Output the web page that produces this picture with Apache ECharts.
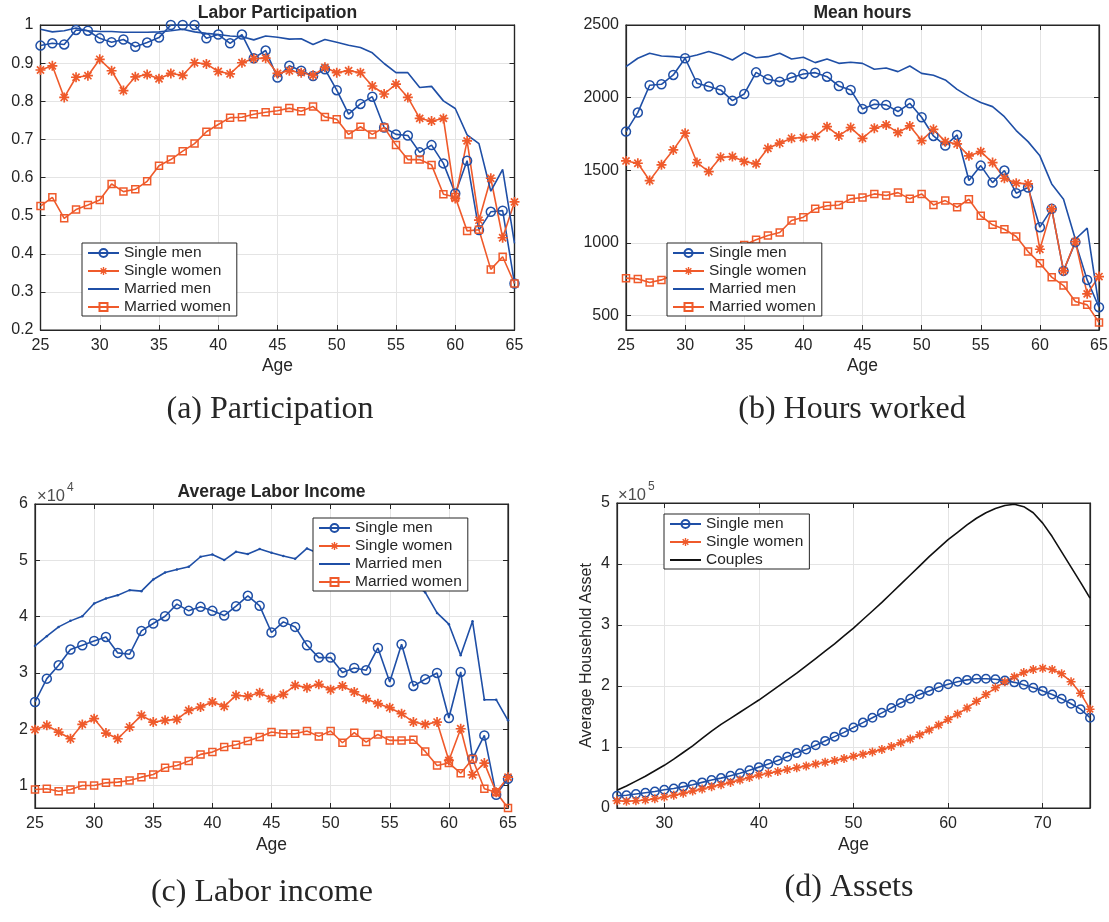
<!DOCTYPE html>
<html>
<head>
<meta charset="utf-8">
<script src="https://cdn.jsdelivr.net/npm/echarts@6.0.0/dist/echarts.min.js"></script>
<style>
  html, body { margin: 0; padding: 0; background: #fff; }
  #chart { width: 1109px; height: 922px; }
</style>
</head>
<body>
<div id="chart"></div>
<script>
// ages for panels a-c and for the assets panel
const AGES = [25, 26, 27, 28, 29, 30, 31, 32, 33, 34, 35, 36, 37, 38, 39, 40, 41, 42, 43, 44, 45,
  46, 47, 48, 49, 50, 51, 52, 53, 54, 55, 56, 57, 58, 59, 60, 61, 62, 63, 64, 65]
const AGES_ASSET = [25, 26, 27, 28, 29, 30, 31, 32, 33, 34, 35, 36, 37, 38, 39, 40, 41, 42, 43, 44, 45,
  46, 47, 48, 49, 50, 51, 52, 53, 54, 55, 56, 57, 58, 59, 60, 61, 62, 63, 64, 65,
  66, 67, 68, 69, 70, 71, 72, 73, 74, 75]

// (a) labor participation
const partSingleMen = [0.946, 0.952, 0.949, 0.987, 0.985, 0.965, 0.955, 0.962, 0.943, 0.954, 0.967,
  1.0, 1.0, 1.0, 0.965, 0.975, 0.952, 0.975, 0.913, 0.933, 0.862,
  0.893, 0.880, 0.866, 0.884, 0.829, 0.766, 0.793, 0.812, 0.731, 0.713,
  0.710, 0.666, 0.685, 0.637, 0.558, 0.644, 0.462, 0.510, 0.513, 0.322]
const partSingleWomen = [0.882, 0.893, 0.810, 0.863, 0.867, 0.910, 0.880, 0.828, 0.864, 0.870, 0.859,
  0.873, 0.868, 0.901, 0.898, 0.878, 0.872, 0.901, 0.912, 0.913, 0.873,
  0.880, 0.875, 0.868, 0.889, 0.875, 0.880, 0.875, 0.840, 0.819, 0.845,
  0.810, 0.755, 0.748, 0.755, 0.545, 0.696, 0.488, 0.598, 0.442, 0.536]
const partMarriedMen = [0.989, 0.982, 0.985, 0.992, 0.985, 0.983, 0.983, 0.981, 0.981, 0.981, 0.982,
  0.985, 0.989, 0.982, 0.978, 0.975, 0.971, 0.969, 0.961, 0.971, 0.968,
  0.963, 0.964, 0.949, 0.962, 0.955, 0.947, 0.941, 0.927, 0.899, 0.875,
  0.875, 0.836, 0.839, 0.801, 0.781, 0.712, 0.689, 0.564, 0.621, 0.427]
const partMarriedWomen = [0.525, 0.548, 0.493, 0.516, 0.528, 0.541, 0.583, 0.563, 0.569, 0.590, 0.631,
  0.647, 0.669, 0.689, 0.720, 0.739, 0.757, 0.758, 0.766, 0.771, 0.775,
  0.782, 0.774, 0.786, 0.759, 0.753, 0.713, 0.733, 0.713, 0.731, 0.685,
  0.647, 0.647, 0.633, 0.556, 0.549, 0.460, 0.463, 0.359, 0.392, 0.322]

// (b) mean hours
const hoursSingleMen = [1766, 1897, 2085, 2092, 2156, 2271, 2099, 2076, 2053, 1979, 2025,
  2174, 2126, 2110, 2138, 2163, 2172, 2144, 2080, 2053, 1922,
  1954, 1950, 1904, 1961, 1865, 1736, 1670, 1743, 1429, 1532,
  1415, 1498, 1342, 1381, 1108, 1234, 807, 1005, 745, 557]
const hoursSingleWomen = [1564, 1548, 1429, 1537, 1640, 1755, 1553, 1491, 1589, 1594, 1560,
  1544, 1651, 1686, 1720, 1725, 1732, 1800, 1736, 1794, 1720,
  1789, 1812, 1759, 1805, 1704, 1782, 1697, 1681, 1599, 1628,
  1553, 1445, 1411, 1406, 956, 1234, 807, 1009, 649, 768]
const hoursMarriedMen = [2213, 2271, 2305, 2287, 2282, 2275, 2294, 2317, 2294, 2259, 2310,
  2275, 2282, 2305, 2266, 2278, 2241, 2266, 2236, 2243, 2236,
  2195, 2204, 2179, 2218, 2167, 2154, 2122, 2057, 2007, 1966,
  1938, 1869, 1773, 1697, 1599, 1406, 1300, 1025, 1101, 562]
const hoursMarriedWomen = [757, 752, 727, 745, 780, 805, 850, 880, 920, 950, 985,
  1021, 1051, 1071, 1154, 1177, 1234, 1255, 1261, 1303, 1312,
  1337, 1326, 1346, 1303, 1337, 1261, 1291, 1245, 1300, 1186,
  1124, 1094, 1044, 940, 860, 764, 706, 596, 573, 452]

// (c) average labor income, x 10^4
const incSingleMen = [2.483, 2.898, 3.135, 3.414, 3.491, 3.568, 3.639, 3.355, 3.331, 3.746, 3.877,
  4.007, 4.221, 4.102, 4.173, 4.102, 4.019, 4.185, 4.369, 4.191, 3.717,
  3.906, 3.817, 3.491, 3.272, 3.272, 3.005, 3.088, 3.046, 3.444, 2.839,
  3.509, 2.768, 2.886, 2.999, 2.198, 3.017, 1.474, 1.890, 0.834, 1.119]
const incSingleWomen = [1.991, 2.068, 1.949, 1.830, 2.085, 2.186, 1.931, 1.830, 2.038, 2.246, 2.127,
  2.157, 2.174, 2.335, 2.394, 2.483, 2.406, 2.601, 2.584, 2.649, 2.542,
  2.619, 2.779, 2.738, 2.797, 2.702, 2.768, 2.661, 2.542, 2.453, 2.382,
  2.275, 2.127, 2.085, 2.127, 1.445, 2.008, 1.190, 1.398, 0.881, 1.148]
const incMarriedMen = [3.479, 3.651, 3.817, 3.924, 4.007, 4.233, 4.321, 4.381, 4.470, 4.452, 4.660,
  4.784, 4.837, 4.885, 5.063, 5.104, 5.004, 5.152, 5.110, 5.199, 5.134,
  5.075, 5.027, 5.211, 5.12, 5.08, 5.02, 4.98, 4.93, 4.90, 4.86,
  4.78, 4.60, 4.43, 4.066, 3.865, 3.313, 3.918, 2.524, 2.524, 2.157]
const incMarriedWomen = [0.929, 0.941, 0.899, 0.929, 1.0, 1.0, 1.047, 1.059, 1.089, 1.148, 1.196,
  1.315, 1.356, 1.433, 1.552, 1.593, 1.682, 1.724, 1.789, 1.860, 1.949,
  1.919, 1.919, 1.967, 1.872, 1.967, 1.759, 1.937, 1.771, 1.907, 1.801,
  1.801, 1.813, 1.605, 1.356, 1.398, 1.219, 1.469, 0.941, 0.881, 0.6]

// (d) average household asset, x 10^5
const assetSingleMen = [0.20, 0.21, 0.23, 0.25, 0.27, 0.30, 0.32, 0.35, 0.38, 0.42,
  0.46, 0.49, 0.53, 0.57, 0.62, 0.67, 0.72, 0.78, 0.84, 0.90,
  0.96, 1.03, 1.10, 1.17, 1.24, 1.32, 1.40, 1.48, 1.56, 1.64,
  1.72, 1.79, 1.86, 1.92, 1.98, 2.03, 2.07, 2.10, 2.12, 2.12,
  2.11, 2.09, 2.06, 2.02, 1.97, 1.92, 1.86, 1.79, 1.71, 1.62, 1.48]
const assetSingleWomen = [0.12, 0.11, 0.12, 0.13, 0.15, 0.18, 0.21, 0.24, 0.28, 0.31,
  0.35, 0.38, 0.42, 0.46, 0.50, 0.54, 0.57, 0.60, 0.63, 0.66,
  0.69, 0.72, 0.75, 0.78, 0.81, 0.85, 0.88, 0.92, 0.96, 1.01,
  1.07, 1.13, 1.20, 1.28, 1.36, 1.45, 1.54, 1.64, 1.75, 1.86,
  1.97, 2.07, 2.15, 2.22, 2.27, 2.29, 2.27, 2.20, 2.07, 1.88, 1.62]
const assetCouples = [0.29, 0.36, 0.44, 0.52, 0.61, 0.70, 0.80, 0.91, 1.02, 1.14,
  1.26, 1.37, 1.47, 1.57, 1.67, 1.77, 1.88, 1.99, 2.10, 2.21,
  2.33, 2.45, 2.57, 2.69, 2.82, 2.95, 3.09, 3.23, 3.37, 3.52,
  3.67, 3.82, 3.97, 4.12, 4.26, 4.40, 4.52, 4.64, 4.75, 4.84,
  4.91, 4.96, 4.98, 4.94, 4.84, 4.67, 4.45, 4.20, 3.95, 3.70, 3.44]

const LEGEND_4 = ['Single men', 'Single women', 'Married men', 'Married women']
const LEGEND_3 = ['Single men', 'Single women', 'Couples']
const PLAIN_LINES = ['Married men', 'Couples']

const BLUE = '#1F4FA6'
const ORANGE = '#EF5A2B'
const INK = '#262626'
const GRID_LINE = '#E4E4E4'
const SANS = 'Liberation Sans, Arial, sans-serif'
const SERIF = 'Liberation Serif, Times New Roman, serif'
// matlab style asterisk marker
const STAR = 'path://M-1,-0.17L1,-0.17L1,0.17L-1,0.17Z' +
  'M-0.17,-1L0.17,-1L0.17,1L-0.17,1Z' +
  'M-0.59,-0.83L0.83,0.59L0.59,0.83L-0.83,-0.59Z' +
  'M0.59,-0.83L0.83,-0.59L-0.59,0.83L-0.83,0.59Z'

const GRIDS = [
  { left: 40.5, top: 25, width: 474, height: 305 },
  { left: 626, top: 25, width: 473, height: 305 },
  { left: 35, top: 504, width: 473, height: 304 },
  { left: 617, top: 503, width: 473, height: 305 },
]

const tickStyle = { inside: true, length: 5, lineStyle: { color: INK, width: 1 } }
const lineAxis = { show: true, onZero: false, lineStyle: { color: INK, width: 1.2 } }

function xAxis(gridIndex, min, max, interval, nameGap, hideEnds) {
  return {
    type: 'value', gridIndex, min, max, interval,
    axisLine: lineAxis, axisTick: tickStyle,
    axisLabel: {
      color: INK, fontSize: 16, fontFamily: SANS, margin: 8,
      showMinLabel: !hideEnds, showMaxLabel: !hideEnds,
      formatter: (v) => String(v),
    },
    splitLine: { show: true, lineStyle: { color: GRID_LINE, width: 1 } },
    name: 'Age', nameLocation: 'middle', nameGap,
    nameTextStyle: { color: INK, fontSize: 17.5, fontFamily: SANS },
  }
}

function yAxis(gridIndex, min, max, interval, hideMin, extra) {
  return {
    type: 'value', gridIndex, min, max, interval,
    axisLine: lineAxis, axisTick: tickStyle,
    axisLabel: {
      color: INK, fontSize: 16, fontFamily: SANS, margin: 7, showMinLabel: !hideMin,
      formatter: (v) => String(Math.round(v * 1000) / 1000),
    },
    splitLine: { show: true, lineStyle: { color: GRID_LINE, width: 1 } },
    ...extra,
  }
}

// top and right edges of the matlab box, ticks only
function boxAxis(base, position) {
  return {
    type: 'value', gridIndex: base.gridIndex, min: base.min, max: base.max, interval: base.interval,
    position, axisLine: lineAxis, axisTick: tickStyle,
    axisLabel: { show: false }, splitLine: { show: false },
  }
}

function makeSeries(name, gridIndex, ages, values, color, symbol, size, hollow) {
  return {
    type: 'line', name, xAxisIndex: gridIndex, yAxisIndex: gridIndex,
    data: ages.map((age, i) => [age, values[i]]),
    symbol, symbolSize: size,
    lineStyle: { color, width: 1.6 },
    itemStyle: hollow
      ? { color: 'transparent', borderColor: color, borderWidth: 1.5 }
      : { color, borderWidth: 0 },
    emphasis: { disabled: true },
  }
}

function makeLegend(names, left, top) {
  return {
    data: names.map((name) => (PLAIN_LINES.includes(name)
      ? { name, itemStyle: { color: 'transparent', borderColor: 'transparent', borderWidth: 0 } }
      : { name })),
    orient: 'vertical', left, top,
    itemWidth: 31, itemHeight: 10, itemGap: 0,
    padding: [1, 6, 0, 5],
    backgroundColor: '#fff', borderColor: INK, borderWidth: 1, borderRadius: 0,
    selectedMode: false,
    textStyle: { color: INK, fontSize: 15.5, fontFamily: SANS, lineHeight: 18 },
  }
}

function text(str, x, y, font, fill, align) {
  return {
    type: 'text', x, y, silent: true,
    style: {
      text: str, font, fill: fill || INK,
      align: align || 'center', textAlign: align || 'center',
      verticalAlign: 'middle', textVerticalAlign: 'middle',
    },
  }
}

const xAxes = [
  xAxis(0, 25, 65, 5, 27, false),
  xAxis(1, 25, 65, 5, 27, false),
  xAxis(2, 25, 65, 5, 28, false),
  xAxis(3, 25, 75, undefined, 28, true),
]
const yAxes = [
  yAxis(0, 0.2, 1, 0.1, false),
  yAxis(1, 400, 2500, undefined, true),
  yAxis(2, 0.6, 6, undefined, true),
  yAxis(3, 0, 5, 1, false, {
    name: 'Average Household Asset', nameLocation: 'middle', nameGap: 22,
    nameTextStyle: { color: INK, fontSize: 16, fontFamily: SANS },
  }),
]

const chart = echarts.init(document.getElementById('chart'))
chart.setOption({
  animation: false,
  backgroundColor: '#fff',
  grid: GRIDS.map((g) => ({ ...g, show: true, borderColor: INK, borderWidth: 1.2, backgroundColor: '#fff', outerBoundsMode: 'none' })),
  xAxis: [...xAxes, ...xAxes.map((a) => boxAxis(a, 'top'))],
  yAxis: [...yAxes, ...yAxes.map((a) => boxAxis(a, 'right'))],
  legend: [
    makeLegend(LEGEND_4, 82, 243),
    makeLegend(LEGEND_4, 667, 243),
    makeLegend(LEGEND_4, 313, 518),
    makeLegend(LEGEND_3, 664, 514),
  ],
  series: [
    makeSeries('Single men', 0, AGES, partSingleMen, BLUE, 'circle', 9, true),
    makeSeries('Single women', 0, AGES, partSingleWomen, ORANGE, STAR, 10, false),
    makeSeries('Married men', 0, AGES, partMarriedMen, BLUE, 'none', 0, false),
    makeSeries('Married women', 0, AGES, partMarriedWomen, ORANGE, 'rect', 7, true),

    makeSeries('Single men', 1, AGES, hoursSingleMen, BLUE, 'circle', 9, true),
    makeSeries('Single women', 1, AGES, hoursSingleWomen, ORANGE, STAR, 10, false),
    makeSeries('Married men', 1, AGES, hoursMarriedMen, BLUE, 'none', 0, false),
    makeSeries('Married women', 1, AGES, hoursMarriedWomen, ORANGE, 'rect', 7, true),

    makeSeries('Single men', 2, AGES, incSingleMen, BLUE, 'circle', 9, true),
    makeSeries('Single women', 2, AGES, incSingleWomen, ORANGE, STAR, 10, false),
    makeSeries('Married men', 2, AGES, incMarriedMen, BLUE, 'circle', 2.5, false),
    makeSeries('Married women', 2, AGES, incMarriedWomen, ORANGE, 'rect', 7, true),

    makeSeries('Single men', 3, AGES_ASSET, assetSingleMen, BLUE, 'circle', 8.5, true),
    makeSeries('Single women', 3, AGES_ASSET, assetSingleWomen, ORANGE, STAR, 9, false),
    makeSeries('Couples', 3, AGES_ASSET, assetCouples, '#111111', 'none', 0, false),
  ],
  graphic: [
    text('Labor Participation', 277.5, 13, `bold 17.5px ${SANS}`),
    text('Mean hours', 862.5, 13, `bold 17.5px ${SANS}`),
    text('Average Labor Income', 271.5, 492, `bold 17.5px ${SANS}`),
    text('\u00d710', 37, 496, `16.5px ${SANS}`, '#4D4D4D', 'left'),
    text('4', 67, 488, `12px ${SANS}`, '#4D4D4D', 'left'),
    text('\u00d710', 618, 495, `16.5px ${SANS}`, '#4D4D4D', 'left'),
    text('5', 648, 487, `12px ${SANS}`, '#4D4D4D', 'left'),
    text('(a) Participation', 270, 410, `32px ${SERIF}`),
    text('(b) Hours worked', 852, 410, `32px ${SERIF}`),
    text('(c) Labor income', 262, 893, `32px ${SERIF}`),
    text('(d) Assets', 849, 888, `32px ${SERIF}`),
  ],
})
</script>
</body>
</html>
